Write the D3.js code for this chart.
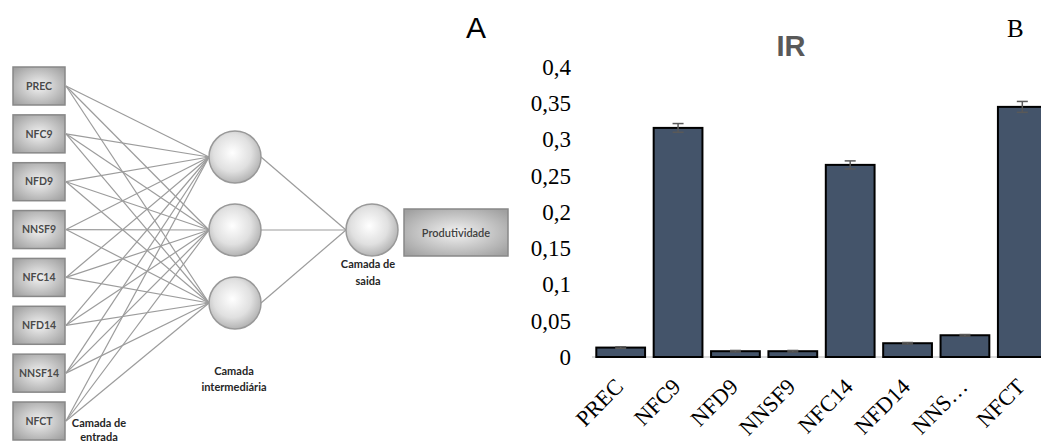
<!DOCTYPE html>
<html>
<head>
<meta charset="utf-8">
<script src="https://cdn.jsdelivr.net/npm/d3@7"></script>
<style>
  html, body { margin: 0; padding: 0; background: #fff; }
  svg { display: block; }
</style>
</head>
<body>
<svg id="chart" width="1041" height="443"></svg>
<script>
// ---------- Panel A data ----------
const inputLabels = ["PREC", "NFC9", "NFD9", "NNSF9", "NFC14", "NFD14", "NNSF14", "NFCT"];
const hiddenNodes = ["h1", "h2", "h3"];
const outputLabel = "Produtividade";
const layerTitles = [["Camada de", "entrada"], ["Camada", "intermediária"], ["Camada de", "saida"]];

// ---------- Panel B data ----------
const categories = ["PREC", "NFC9", "NFD9", "NNSF9", "NFC14", "NFD14", "NNSF14", "NFCT"];
const axisLabels = ["PREC", "NFC9", "NFD9", "NNSF9", "NFC14", "NFD14", "NNS…", "NFCT"];
const irValues = [0.013, 0.316, 0.008, 0.008, 0.265, 0.019, 0.030, 0.345];
const irErrors = [0.001, 0.006, 0.001, 0.001, 0.0055, 0.001, 0.001, 0.0075];
const yTickValues = [0, 0.05, 0.1, 0.15, 0.2, 0.25, 0.3, 0.35, 0.4];
const yTickLabels = ["0", "0,05", "0,1", "0,15", "0,2", "0,25", "0,3", "0,35", "0,4"];
const chartTitle = "IR";

const svg = d3.select("#chart");
svg.append("rect").attr("width", 1041).attr("height", 443).attr("fill", "#fff");

const defs = svg.append("defs");
const boxGrad = defs.append("radialGradient").attr("id", "boxGrad")
  .attr("cx", "50%").attr("cy", "50%").attr("r", "65%");
boxGrad.append("stop").attr("offset", "0%").attr("stop-color", "#f2f2f2");
boxGrad.append("stop").attr("offset", "100%").attr("stop-color", "#a0a0a0");
const ballGrad = defs.append("radialGradient").attr("id", "ballGrad")
  .attr("cx", "45%").attr("cy", "42%").attr("r", "60%");
ballGrad.append("stop").attr("offset", "0%").attr("stop-color", "#ffffff");
ballGrad.append("stop").attr("offset", "60%").attr("stop-color", "#e0e0e0");
ballGrad.append("stop").attr("offset", "100%").attr("stop-color", "#b0b0b0");

// ================= Panel A: network =================
const A = svg.append("g").attr("class", "panelA");
const yIn = d3.scalePoint().domain(inputLabels).range([86, 421]);
const yHid = d3.scalePoint().domain(hiddenNodes).range([157, 303]);
const boxX0 = 13, boxW = 52, boxH = 38;
const hidX = 235, nodeR = 26;
const outX = 372, outY = 230;

const links = [];
inputLabels.forEach(i => hiddenNodes.forEach(h => links.push({ i, h })));
A.append("g").selectAll("line").data(links).join("line")
  .attr("x1", boxX0 + boxW + 1).attr("y1", d => yIn(d.i))
  .attr("x2", hidX - nodeR).attr("y2", d => yHid(d.h))
  .attr("stroke", "#9c9c9c").attr("stroke-width", 1.2);
A.append("g").selectAll("line").data(hiddenNodes).join("line")
  .attr("x1", hidX + nodeR).attr("y1", d => yHid(d))
  .attr("x2", outX - nodeR).attr("y2", outY)
  .attr("stroke", "#9c9c9c").attr("stroke-width", 1.2);

const inG = A.append("g").selectAll("g").data(inputLabels).join("g")
  .attr("transform", d => `translate(${boxX0},${yIn(d) - boxH / 2})`);
inG.append("rect").attr("width", boxW).attr("height", boxH)
  .attr("fill", "url(#boxGrad)").attr("stroke", "#888").attr("stroke-width", 1.5);
inG.append("text").attr("x", boxW / 2).attr("y", boxH / 2).attr("dy", "0.36em")
  .attr("text-anchor", "middle").attr("font-family", "Lato, sans-serif")
  .attr("font-size", 10.5).attr("font-weight", 700).attr("fill", "#4a4a4a").text(d => d);

A.append("g").selectAll("circle").data(hiddenNodes).join("circle")
  .attr("cx", hidX).attr("cy", d => yHid(d)).attr("r", nodeR)
  .attr("fill", "url(#ballGrad)").attr("stroke", "#999").attr("stroke-width", 1.5);
A.append("circle").attr("cx", outX).attr("cy", outY).attr("r", nodeR)
  .attr("fill", "url(#ballGrad)").attr("stroke", "#999").attr("stroke-width", 1.5);

A.append("rect").attr("x", 404).attr("y", 209).attr("width", 104).attr("height", 47)
  .attr("fill", "url(#boxGrad)").attr("stroke", "#888").attr("stroke-width", 1.5);
A.append("text").attr("x", 456).attr("y", 233).attr("dy", "0.36em").attr("text-anchor", "middle")
  .attr("font-family", "Lato, sans-serif").attr("font-size", 11).attr("font-weight", 600)
  .attr("fill", "#404040").text(outputLabel);

const titlePos = [[99, 427], [234, 375], [368, 268]];
const lineGap = [14, 16, 17];
layerTitles.forEach((lines, k) => {
  const t = A.append("text").attr("text-anchor", "middle")
    .attr("font-family", "Lato, sans-serif").attr("font-size", 11).attr("font-weight", 700)
    .attr("fill", "#262626");
  lines.forEach((s, j) => t.append("tspan").attr("x", titlePos[k][0])
    .attr("y", titlePos[k][1] + j * lineGap[k]).text(s));
});

A.append("text").attr("x", 466).attr("y", 38).attr("font-family", "Liberation Sans, Arial, sans-serif")
  .attr("font-size", 30).attr("fill", "#000").text("A");

// ================= Panel B: bar chart =================
const B = svg.append("g").attr("class", "panelB");
const x = d3.scaleBand().domain(categories).range([592, 1051]).paddingInner(0.15).paddingOuter(0.075);
const y = d3.scaleLinear().domain([0, 0.4]).range([357, 67]);

// baseline
B.append("line").attr("x1", 592).attr("x2", 1051).attr("y1", y(0)).attr("y2", y(0))
  .attr("stroke", "#d0d0d0").attr("stroke-width", 1.5);

// y axis
const yAxis = d3.axisLeft(y).tickValues(yTickValues).tickSize(0).tickPadding(0)
  .tickFormat((d, i) => yTickLabels[i]);
const yg = B.append("g").attr("transform", "translate(571,0)").call(yAxis);
yg.select(".domain").remove();
yg.selectAll("text").attr("font-family", "Liberation Serif, Times New Roman, serif")
  .attr("font-size", 23).attr("fill", "#000");

// bars
B.append("g").selectAll("rect").data(categories).join("rect")
  .attr("x", d => x(d)).attr("width", x.bandwidth())
  .attr("y", (d, i) => y(irValues[i])).attr("height", (d, i) => y(0) - y(irValues[i]))
  .attr("fill", "#44546a").attr("stroke", "#000").attr("stroke-width", 2);

// error bars
const eb = B.append("g").selectAll("g").data(categories).join("g")
  .attr("transform", d => `translate(${x(d) + x.bandwidth() / 2},0)`);
eb.append("line").attr("y1", (d, i) => y(irValues[i] + irErrors[i]))
  .attr("y2", (d, i) => y(irValues[i] - irErrors[i]))
  .attr("stroke", "#595959").attr("stroke-width", 1.5);
eb.append("line").attr("x1", -5.5).attr("x2", 5.5)
  .attr("y1", (d, i) => y(irValues[i] + irErrors[i])).attr("y2", (d, i) => y(irValues[i] + irErrors[i]))
  .attr("stroke", "#595959").attr("stroke-width", 1.5);
eb.append("line").attr("x1", -5.5).attr("x2", 5.5)
  .attr("y1", (d, i) => y(irValues[i] - irErrors[i])).attr("y2", (d, i) => y(irValues[i] - irErrors[i]))
  .attr("stroke", "#595959").attr("stroke-width", 1.5);

// x labels
B.append("g").selectAll("text").data(categories).join("text")
  .attr("transform", d => `translate(${x(d) + x.bandwidth() / 2 + 4},388) rotate(-45)`)
  .attr("text-anchor", "end").attr("font-family", "Liberation Serif, Times New Roman, serif")
  .attr("font-size", 22.5).attr("fill", "#000")
  .text((d, i) => axisLabels[i]);

// title
B.append("text").attr("x", 791).attr("y", 56).attr("text-anchor", "middle")
  .attr("font-family", "Liberation Sans, Arial, sans-serif").attr("font-weight", 700)
  .attr("font-size", 29).attr("fill", "#595959").text(chartTitle);

B.append("text").attr("x", 1007).attr("y", 37).attr("font-family", "Liberation Serif, Times New Roman, serif")
  .attr("font-size", 25).attr("fill", "#000").text("B");
</script>
</body>
</html>
